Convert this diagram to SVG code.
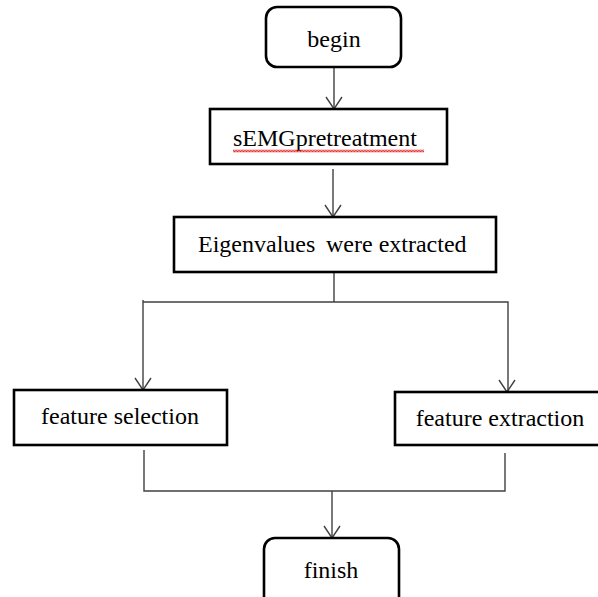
<svg xmlns="http://www.w3.org/2000/svg" width="598" height="597" viewBox="0 0 598 597">
<defs>
<style>
.box{fill:#fff;stroke:#000;stroke-width:2.6}
.lbl{font-family:"Liberation Serif","Times New Roman",serif;font-size:24px;fill:#000}
.c{text-anchor:middle}
.con{fill:none;stroke:#404040;stroke-width:1.4}
</style>
<pattern id="sq" x="233" y="149.5" width="3" height="3" patternUnits="userSpaceOnUse">
<path d="M0,0.5 L1.5,2.4 L3,0.5" fill="none" stroke="#e01818" stroke-width="1.2"/>
</pattern>
</defs>
<rect width="598" height="597" fill="#fff"/>
<g id="connectors">
<path class="con" d="M334,67 V109"/>
<path class="con" d="M326,97 L334,109 L342,97"/>
<path class="con" d="M333,169 V217"/>
<path class="con" d="M325,205 L333,217 L341,205"/>
<path class="con" d="M334,272 V302"/>
<path class="con" d="M143,300 V390"/>
<path class="con" d="M143,302 H508 V392"/>
<path class="con" d="M135,378 L143,390 L151,378"/>
<path class="con" d="M499,380 L507,392 L515,380"/>
<path class="con" d="M144,450 V491 H505 V453"/>
<path class="con" d="M332,491 V538"/>
<path class="con" d="M324,526 L332,538 L340,526"/>
</g>
<g id="begin">
<rect class="box" x="266" y="7" width="135" height="60" rx="11"/>
<text class="lbl c" x="334" y="47">begin</text>
</g>
<g id="pretreatment">
<rect class="box" x="210" y="109" width="237" height="55"/>
<text class="lbl" x="233" y="146">sEMGpretreatment</text>
<rect x="233" y="149.5" width="191" height="3" fill="url(#sq)"/>
</g>
<g id="eigen">
<rect class="box" x="174" y="217" width="322" height="55"/>
<text class="lbl" y="252"><tspan x="198">Eigenvalues</tspan><tspan x="326">were extracted</tspan></text>
</g>
<g id="selection">
<rect class="box" x="14" y="390" width="213" height="55"/>
<text class="lbl c" x="120" y="424">feature selection</text>
</g>
<g id="extraction">
<rect class="box" x="395" y="392" width="210" height="53"/>
<text class="lbl c" x="500" y="426">feature extraction</text>
</g>
<g id="finish">
<rect class="box" x="264" y="538" width="135" height="70" rx="11"/>
<text class="lbl c" x="331" y="578">finish</text>
</g>
</svg>
